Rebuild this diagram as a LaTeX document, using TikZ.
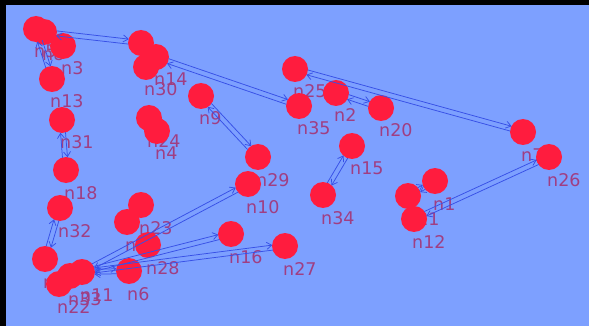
\documentclass[tikz,border=0pt]{standalone}
\usepackage{fontspec}
\setmainfont{DejaVu Sans}
\usetikzlibrary{calc,arrows.meta}
\definecolor{bgblue}{RGB}{125,160,255}
\definecolor{dotred}{RGB}{255,28,62}
\definecolor{labpurple}{RGB}{160,62,130}
\definecolor{edgeblue}{RGB}{55,80,230}
\newcommand\bidir[2]{%
  \draw[edgeline] ($(#1)!2.5pt!90:(#2)$) -- ($(#2)!2.5pt!-90:(#1)$);
  \draw[edgeline] ($(#2)!2.5pt!90:(#1)$) -- ($(#1)!2.5pt!-90:(#2)$);
}
\begin{document}
\begin{tikzpicture}[x=1pt,y=-1pt,
  dot/.style={circle,fill=dotred,draw=none,minimum size=26pt,inner sep=0pt},
  lab/.style={anchor=base west,inner sep=0pt,text=labpurple,font=\fontsize{17.5}{20}\selectfont},
  edgeline/.style={draw=edgeblue,line width=0.75pt,shorten >=12.5pt,shorten <=12.5pt,-{Straight Barb[length=5pt,width=7pt]}}]
\useasboundingbox (0,0) rectangle (589,326);
\fill[black] (0,0) rectangle (589,326);
\fill[bgblue] (6,5) rectangle (589,326);
% node coordinates
\foreach \n/\x/\y in {n0/141/43, n1/435/181, n2/336/93, n3/63/46, n4/157/131, n5/36/29,
  n6/129/271, n7/523/132, n8/44/32, n9/201/96, n10/248/184, n11/82/272, n12/414/219,
  n13/52/79, n14/156/57, n15/352/146, n16/231/234, n17/127/222, n18/66/170, n19/45/259,
  n20/381/108, n21/408/196, n22/59/284, n23/141/205, n24/149/118, n25/295/69,
  n26/549/157, n27/285/246, n28/148/245, n29/258/157, n30/146/67, n31/62/120,
  n32/60/208, n33/70/276, n34/323/195, n35/299/106}
  {\coordinate (\n) at (\x,\y);}
% labels
\foreach \n in {n0,n1,n2,n3,n4,n5,n6,n7,n8,n9,n10,n11,n12,n13,n14,n15,n16,n17,n18,n19,
  n20,n21,n22,n23,n24,n25,n26,n27,n28,n29,n30,n31,n32,n33,n34,n35}
  {\node[lab] (l\n) at ($(\n)+(-2,29)$) {\n};}
% circles
\foreach \n in {n0,n1,n2,n3,n4,n5,n6,n7,n8,n9,n10,n11,n12,n13,n14,n15,n16,n17,n18,n19,
  n20,n21,n22,n23,n24,n25,n26,n27,n28,n29,n30,n31,n32,n33,n34,n35}
  {\node[dot] (c\n) at (\n) {};}
% edges
\bidir{n8}{n0}
\bidir{n5}{n13}
\bidir{n14}{n35}
\bidir{n9}{n29}
\bidir{n25}{n7}
\bidir{n2}{n20}
\bidir{n15}{n34}
\bidir{n12}{n26}
\bidir{n1}{n21}
\bidir{n31}{n18}
\bidir{n32}{n19}
\bidir{n11}{n6}
\bidir{n11}{n10}
\bidir{n11}{n16}
\bidir{n11}{n27}
\end{tikzpicture}
\end{document}
